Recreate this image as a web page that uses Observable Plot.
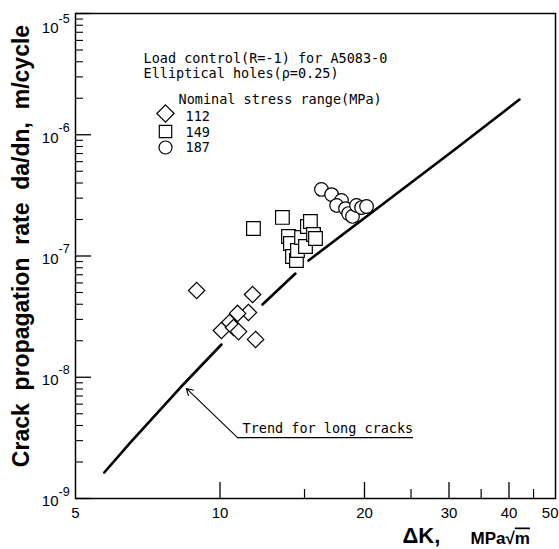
<!DOCTYPE html>
<html><head><meta charset="utf-8">
<script src="https://cdn.jsdelivr.net/npm/d3@7"></script>
<script src="https://cdn.jsdelivr.net/npm/@observablehq/plot@0.6"></script>
<style>body{margin:0;background:#fff} svg{display:block}</style>
</head><body><div id="chart"></div>
<script>
// ---- data ----
const d112_dk   = [8.94, 11.69, 11.46, 10.88, 10.47, 10.07, 10.67, 10.93, 11.86];
const d112_rate = [5.19e-8, 4.81e-8, 3.42e-8, 3.36e-8, 2.83e-8, 2.43e-8, 2.57e-8, 2.38e-8, 2.05e-8];
const d149_dk   = [11.74, 13.49, 13.89, 14.02, 14.16, 14.43, 14.5, 14.79, 15.07, 15.21, 15.43, 15.66, 15.81];
const d149_rate = [1.686e-7, 2.08e-7, 1.448e-7, 1.268e-7, 9.9e-8, 9.18e-8, 1.11e-7, 1.421e-7, 1.198e-7, 1.751e-7, 1.925e-7, 1.504e-7, 1.393e-7];
const d187_dk   = [16.27, 17.08, 17.91, 17.5, 18.26, 18.53, 18.88, 19.25, 19.72, 20.2];
const d187_rate = [3.54e-7, 3.21e-7, 2.87e-7, 2.61e-7, 2.46e-7, 2.24e-7, 2.12e-7, 2.61e-7, 2.51e-7, 2.56e-7];
const trend_dk   = [5.74, 6.51, 8.27, 10.07, 12.26, 14.36, 15.29, 30.65, 42.07];
const trend_rate = [1.639e-9, 2.90e-9, 8.23e-9, 1.862e-8, 3.98e-8, 7.17e-8, 9.18e-8, 7.42e-7, 1.953e-6];
const trend_seg  = [0, 0, 0, 0, 1, 1, 2, 2, 2];

const xLabels = [5, 10, 20, 30, 40, 50];
const xMajor = [10, 20, 30, 40];
const xMinor = [15, 25, 35, 45];
const yMajor = [1e-9, 1e-8, 1e-7, 1e-6, 1e-5];
const yExp = ["-9", "-8", "-7", "-6", "-5"];
const yMinor = [];
for (const d of yMajor.slice(0, 4)) for (let k = 2; k <= 9; k++) yMinor.push(d * k);

const legendLabels = ["112", "149", "187"];
const legendSymbols = ["diamond2", "square", "circle"];
// annotation anchor points (data units)
const arrowFrom = [10.88, 3.18e-9], arrowTo = [8.51, 8.08e-9];
const underlineEnd = 25.3;
const noteAt = [11.14, 3.44e-9];

const mono = "'DejaVu Sans Mono', monospace";
const sans = "'Liberation Sans', Arial, sans-serif";
const W = 559, H = 549, ML = 75, MR = 4, MT = 13, MB = 51;
const FW = W - ML - MR, FH = H - MT - MB;

const idx = a => a.map((_, i) => i);
const pts = {fill: "white", stroke: "black", strokeWidth: 1.2};

const chart = Plot.plot({
  width: W, height: H,
  marginLeft: ML, marginRight: MR, marginTop: MT, marginBottom: MB,
  x: {type: "log", domain: [5, 50], axis: null},
  y: {type: "log", domain: [1e-9, 1e-5], axis: null},
  style: {background: "white", fontFamily: sans, color: "black"},
  marks: [
    Plot.tickY(yMajor, {y: d => d, insetRight: FW - 16, strokeWidth: 1.3}),
    Plot.tickY(yMinor, {y: d => d, insetRight: FW - 8, strokeWidth: 1.1}),
    Plot.tickX(xMajor, {x: d => d, insetTop: FH - 16, strokeWidth: 1.3}),
    Plot.tickX(xMinor, {x: d => d, insetTop: FH - 9, strokeWidth: 1.2}),
    Plot.frame({strokeWidth: 1.5}),
    // y tick labels 10^n
    Plot.text(yMajor.slice(0, 4), {y: d => d, frameAnchor: "left", text: () => "10", textAnchor: "end", lineAnchor: "middle", dx: -17, dy: 3, fontSize: 15}),
    Plot.text(yMajor.slice(0, 4), {y: d => d, frameAnchor: "left", text: (d, i) => yExp[i], textAnchor: "start", lineAnchor: "middle", dx: -17, dy: -7, fontSize: 12.5}),
    Plot.text(yMajor.slice(4), {y: d => d, frameAnchor: "left", text: () => "10", textAnchor: "end", lineAnchor: "middle", dx: -17, dy: 15, fontSize: 15}),
    Plot.text(yMajor.slice(4), {y: d => d, frameAnchor: "left", text: (d, i) => yExp[4 + i], textAnchor: "start", lineAnchor: "middle", dx: -17, dy: 5, fontSize: 12.5}),
    // x tick labels
    Plot.text(xLabels.slice(0, 5), {x: d => d, frameAnchor: "bottom", text: d => String(d), textAnchor: "middle", lineAnchor: "top", dy: 9, fontSize: 15}),
    Plot.text(xLabels.slice(5), {x: d => d, frameAnchor: "bottom", text: d => String(d), textAnchor: "end", lineAnchor: "top", dx: 3, dy: 9, fontSize: 15}),
    // axis titles
    Plot.text(["Crack\u00A0\u00A0propagation\u00A0\u00A0rate\u00A0\u00A0da/dn,\u00A0\u00A0m/cycle"], {frameAnchor: "left", rotate: -90, textAnchor: "middle", lineAnchor: "bottom", dx: -47, dy: -10, fontSize: 23, fontWeight: "bold"}),
    Plot.text(["\u0394K,"], {frameAnchor: "bottom-left", textAnchor: "start", lineAnchor: "bottom", dx: 327, dy: 44, fontSize: 22, fontWeight: "bold"}),
    Plot.text(["MPa\u221Am"], {frameAnchor: "bottom-left", textAnchor: "start", lineAnchor: "bottom", dx: 395, dy: 45, fontSize: 17, fontWeight: "bold", fontFamily: "'Liberation Sans Narrow', 'Liberation Sans', Arial, sans-serif"}),
    // trend line
    Plot.line(idx(trend_dk), {x: i => trend_dk[i], y: i => trend_rate[i], z: i => trend_seg[i], strokeWidth: 2.6}),
    // data
    Plot.dot(idx(d112_dk), {x: i => d112_dk[i], y: i => d112_rate[i], symbol: "diamond2", r: 7.4, ...pts}),
    Plot.dot(idx(d149_dk), {x: i => d149_dk[i], y: i => d149_rate[i], symbol: "square", r: 7.7, ...pts}),
    Plot.dot(idx(d187_dk), {x: i => d187_dk[i], y: i => d187_rate[i], symbol: "circle", r: 6.8, ...pts}),
    // legend
    Plot.text(["Load control(R=-1) for A5083-0"], {frameAnchor: "top-left", textAnchor: "start", lineAnchor: "bottom", dx: 68, dy: 49, fontFamily: mono, fontSize: 13.5}),
    Plot.text(["Elliptical holes(\u03C1=0.25)"], {frameAnchor: "top-left", textAnchor: "start", lineAnchor: "bottom", dx: 68, dy: 64, fontFamily: mono, fontSize: 13.5}),
    Plot.text(["Nominal stress range(MPa)"], {frameAnchor: "top-left", textAnchor: "start", lineAnchor: "bottom", dx: 103, dy: 90, fontFamily: mono, fontSize: 13.5}),
    Plot.text(legendLabels, {frameAnchor: "top-left", textAnchor: "start", lineAnchor: "bottom", dx: 110, dy: 107.5, fontFamily: mono, fontSize: 13.5, text: (d, i) => i === 0 ? d : ""}),
    Plot.text(legendLabels, {frameAnchor: "top-left", textAnchor: "start", lineAnchor: "bottom", dx: 110, dy: 123.5, fontFamily: mono, fontSize: 13.5, text: (d, i) => i === 1 ? d : ""}),
    Plot.text(legendLabels, {frameAnchor: "top-left", textAnchor: "start", lineAnchor: "bottom", dx: 110, dy: 138.5, fontFamily: mono, fontSize: 13.5, text: (d, i) => i === 2 ? d : ""}),
    Plot.dot([legendSymbols[0]], {frameAnchor: "top-left", dx: 90, dy: 100, symbol: legendSymbols[0], r: 7.8, ...pts}),
    Plot.dot([legendSymbols[1]], {frameAnchor: "top-left", dx: 90, dy: 118, symbol: legendSymbols[1], r: 7.0, ...pts}),
    Plot.dot([legendSymbols[2]], {frameAnchor: "top-left", dx: 90, dy: 134, symbol: legendSymbols[2], r: 6.5, ...pts}),
    // annotation
    Plot.arrow([0], {x1: arrowFrom[0], y1: arrowFrom[1], x2: arrowTo[0], y2: arrowTo[1], headLength: 10, strokeWidth: 1.1}),
    Plot.ruleY([arrowFrom[1]], {x1: arrowFrom[0], x2: underlineEnd, strokeWidth: 1.1}),
    Plot.text(["Trend for long cracks"], {x: noteAt[0], y: noteAt[1], textAnchor: "start", lineAnchor: "bottom", fontFamily: mono, fontSize: 13.5})
  ]
});
document.getElementById("chart").appendChild(chart);
// overline on the m of sqrt(m)
d3.select(chart).selectAll("text").filter(function () { return this.textContent === "MPa\u221Am"; })
  .each(function () {
    const t = d3.select(this);
    t.text("MPa\u221A");
    t.append("tspan").attr("text-decoration", "overline").style("text-decoration", "overline").text("m");
  });
</script>
</body></html>
